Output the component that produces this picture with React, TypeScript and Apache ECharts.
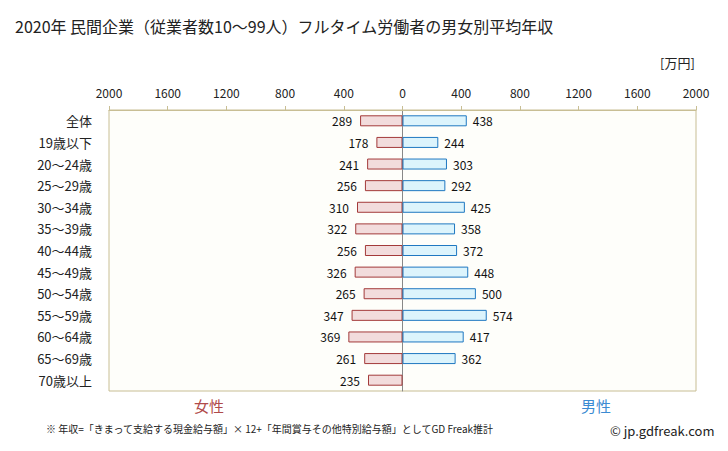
import React, { useEffect, useRef } from "react";
import * as echarts from "echarts";

const categories = ["全体", "19歳以下", "20～24歳", "25～29歳", "30～34歳", "35～39歳", "40～44歳", "45～49歳", "50～54歳", "55～59歳", "60～64歳", "65～69歳", "70歳以上"];
const female = [289, 178, 241, 256, 310, 322, 256, 326, 265, 347, 369, 261, 235];
const male: (number | null)[] = [438, 244, 303, 292, 425, 358, 372, 448, 500, 574, 417, 362, null];

const FONT = "'Noto Sans CJK JP', 'Noto Sans', sans-serif";

export default function App() {
  const ref = useRef<HTMLDivElement>(null);
  useEffect(() => {
    if (!ref.current) return;
    const chart = echarts.init(ref.current, undefined, { renderer: "svg" });
    chart.setOption({
      animation: false,
      backgroundColor: "#ffffff",
      textStyle: { fontFamily: FONT },
      title: {
        text: "2020年 民間企業（従業者数10～99人）フルタイム労働者の男女別平均年収",
        left: 10,
        top: 13,
        textStyle: { fontSize: 16, fontWeight: "normal", color: "#222", fontFamily: FONT },
      },
      grid: {
        left: 109,
        top: 110,
        width: 587,
        height: 281,
        show: true,
        backgroundColor: "#fefefa",
        borderColor: "#c8be94",
        borderWidth: 1,
      },
      xAxis: {
        type: "value",
        position: "top",
        min: -2000,
        max: 2000,
        interval: 400,
        axisLine: { show: true, lineStyle: { color: "#c8be94" } },
        axisTick: { show: true, length: 4, lineStyle: { color: "#c8be94" } },
        splitLine: { show: false },
        axisLabel: {
          formatter: (v: number) => String(Math.abs(v)),
          color: "#222",
          fontSize: 12,
          margin: 12,
        },
      },
      yAxis: {
        type: "category",
        data: categories,
        inverse: true,
        axisLine: { show: true, onZero: true, lineStyle: { color: "#888888", width: 1 } },
        axisTick: { show: false },
        axisLabel: { color: "#222", fontSize: 13, margin: 17, verticalAlign: "middle" },
      },
      series: [
        {
          name: "女性",
          type: "bar",
          data: female.map((v) => -v),
          barWidth: 11,
          barGap: "-100%",
          itemStyle: { color: "#f2dcdc", borderColor: "#a33a3a", borderWidth: 1 },
          label: {
            show: true,
            position: "left",
            distance: 8,
            formatter: (p: any) => String(Math.abs(p.value)),
            color: "#111",
            fontSize: 12,
          },
        },
        {
          name: "男性",
          type: "bar",
          data: male,
          barWidth: 11,
          itemStyle: { color: "#dcf4fc", borderColor: "#1f78c1", borderWidth: 1 },
          label: {
            show: true,
            position: "right",
            distance: 6,
            color: "#111",
            fontSize: 12,
          },
        },
      ],
      graphic: [
        {
          type: "text",
          left: 660,
          top: 56,
          style: { text: "[万円]", fontSize: 13, fill: "#222", fontFamily: FONT },
        },
        {
          type: "text",
          left: 194,
          top: 398,
          style: { text: "女性", fontSize: 15, fill: "#b04a4a", fontFamily: FONT },
        },
        {
          type: "text",
          left: 581,
          top: 398,
          style: { text: "男性", fontSize: 15, fill: "#3b8bd2", fontFamily: FONT },
        },
        {
          type: "text",
          left: 46,
          top: 423,
          style: {
            text: "※ 年収=「きまって支給する現金給与額」× 12+「年間賞与その他特別給与額」としてGD Freak推計",
            fontSize: 10,
            fill: "#222",
            fontFamily: FONT,
          },
        },
        {
          type: "text",
          left: 610,
          top: 424,
          style: { text: "© jp.gdfreak.com", fontSize: 13, fill: "#222", fontFamily: FONT },
        },
      ],
    });
    return () => chart.dispose();
  }, []);
  return <div ref={ref} style={{ width: 728, height: 451, margin: -8 }} />;
}
